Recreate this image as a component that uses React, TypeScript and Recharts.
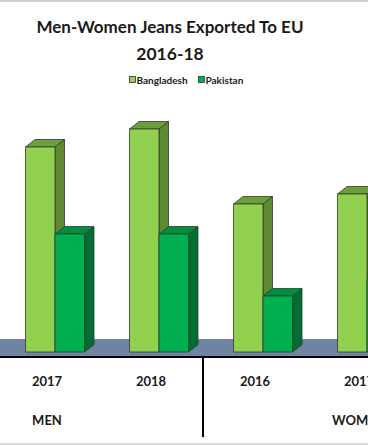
import React from "react";
import { BarChart, Bar, XAxis, YAxis, ReferenceArea, Legend } from "recharts";

// categories (two-level axis: year within group)
const years = ["2016", "2017", "2018", "2016", "2017", "2018"];
const groups = ["MEN", "MEN", "MEN", "WOMEN", "WOMEN", "WOMEN"];

// series values
const bangladesh = [188, 205, 223, 148, 158, 170];
const pakistan = [102, 118, 118, 56, 72, 84];

const seriesNames = ["Bangladesh", "Pakistan"];

const data = years.map((y, i) => ({
  key: `${groups[i]} ${y}`,
  year: y,
  group: groups[i],
  Bangladesh: bangladesh[i],
  Pakistan: pakistan[i],
}));

const FONT = "Lato, 'Open Sans', sans-serif";
const CHART_W = 624;
const CHART_H = 445;
const CHART_LEFT = -109;
const BAND = CHART_W / years.length;

const DX = 9.5;
const DY = 7.5;
const SHIFT = 7.5;

const palette: Record<string, { front: string; top: string; side: string }> = {
  Bangladesh: { front: "#92d050", top: "#6e9e3c", side: "#5e8a34" },
  Pakistan: { front: "#00b050", top: "#008f3e", side: "#006f31" },
};

function make3D(name: string) {
  const c = palette[name];
  return (props: any) => {
    const { x, y, width, height } = props;
    if (width == null || height == null) return null;
    const x0 = x + SHIFT;
    const x1 = x0 + width;
    const yb = y + height;
    const edge = { stroke: "#2f3a2a", strokeWidth: 0.8, strokeLinejoin: "round" as const };
    return (
      <g>
        <polygon
          points={`${x1},${y} ${x1 + DX},${y - DY} ${x1 + DX},${yb - DY} ${x1},${yb}`}
          fill={c.side}
          {...edge}
        />
        <polygon
          points={`${x0},${y} ${x0 + DX},${y - DY} ${x1 + DX},${y - DY} ${x1},${y}`}
          fill={c.top}
          {...edge}
        />
        <rect x={x0} y={y} width={width} height={height} fill={c.front} {...edge} />
      </g>
    );
  };
}

function AxisTick(props: any) {
  const { x, y, payload } = props;
  const i = payload.index;
  const showGroup = i % 3 === 1;
  const divider = i % 3 === 0;
  return (
    <g>
      <text
        x={x}
        y={y + 29}
        textAnchor="middle"
        fontFamily={FONT}
        fontWeight={700}
        fontSize={13}
        fill="#1a1a1a"
      >
        {years[i]}
      </text>
      {showGroup && (
        <text
          x={x}
          y={y + 68}
          textAnchor="middle"
          fontFamily={FONT}
          fontWeight={700}
          fontSize={13}
          fill="#1a1a1a"
        >
          {groups[i]}
        </text>
      )}
      {divider && (
        <line x1={x - BAND / 2} x2={x - BAND / 2} y1={y} y2={y + 80} stroke="#000" strokeWidth={2} />
      )}
    </g>
  );
}

function LegendContent() {
  const items = [
    { name: seriesNames[0], x: 0 },
    { name: seriesNames[1], x: 69 },
  ];
  return (
    <svg width={130} height={16} style={{ display: "block" }}>
      {items.map((it) => (
        <g key={it.name}>
          <rect x={it.x + 0.5} y={4.5} width={6} height={6} fill={palette[it.name].front} stroke="#333" strokeWidth={0.8} />
          <text x={it.x + 7.5} y={11.5} fontFamily={FONT} fontWeight={700} fontSize={10} fill="#1a1a1a">
            {it.name}
          </text>
        </g>
      ))}
    </svg>
  );
}

export default function App() {
  return (
    <div
      style={{
        position: "absolute",
        left: 0,
        top: 0,
        width: 368,
        height: 445,
        overflow: "hidden",
        background: "#fff",
      }}
    >
      <div style={{ position: "absolute", left: CHART_LEFT, top: 0 }}>
        <BarChart
          width={CHART_W}
          height={CHART_H}
          data={data}
          margin={{ top: 107, right: 0, left: 0, bottom: 8 }}
          barGap={0}
          barSize={29.5}
        >
          <XAxis
            dataKey="key"
            axisLine={{ stroke: "#000", strokeWidth: 2 }}
            tickLine={false}
            tickSize={0}
            tickMargin={0}
            height={80}
            interval={0}
            tick={<AxisTick />}
          />
          <YAxis hide type="number" domain={[-5, 245]} allowDataOverflow />
          <ReferenceArea y1={-4} y2={13} fill="#6e84a2" fillOpacity={1} stroke="none" ifOverflow="visible" />
          <Legend
            layout="horizontal"
            verticalAlign="middle"
            align="center"
            content={<LegendContent />}
            wrapperStyle={{ position: "absolute", top: 72, left: 238, width: 130 }}
          />
          {seriesNames.map((name) => (
            <Bar key={name} dataKey={name} isAnimationActive={false} shape={make3D(name)} />
          ))}
        </BarChart>
      </div>
      <svg width={368} height={70} style={{ position: "absolute", left: 0, top: 0 }}>
        <text x={170} y={32.5} textAnchor="middle" fontFamily={FONT} fontWeight={700} fontSize={17} fill="#1a1a1a">
          Men-Women Jeans Exported To EU
        </text>
        <text x={170} y={60} textAnchor="middle" fontFamily={FONT} fontWeight={700} fontSize={17.5} fill="#1a1a1a">
          2016-18
        </text>
      </svg>
      <div style={{ position: "absolute", left: 0, top: 0, width: 368, height: 2, background: "#d2d2d2" }} />
      <div style={{ position: "absolute", left: 0, top: 443, width: 368, height: 2, background: "#d8d8d8" }} />
    </div>
  );
}
